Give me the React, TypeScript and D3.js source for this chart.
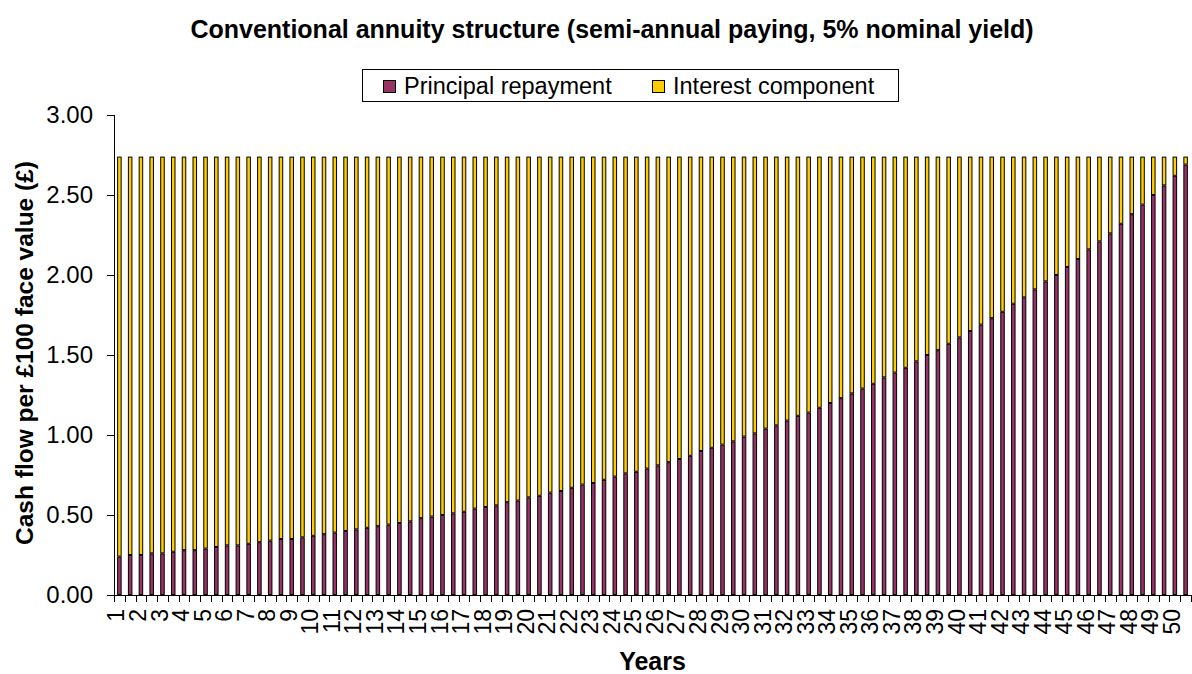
import React, { useRef, useEffect } from 'react';
import * as d3 from 'd3';

// semi-annual payments, 100 periods over 50 years
const principal = [
  0.24, 0.25, 0.25, 0.26, 0.26, 0.27, 0.28, 0.28, 0.29, 0.30,
  0.31, 0.31, 0.32, 0.33, 0.34, 0.35, 0.35, 0.36, 0.37, 0.38,
  0.39, 0.40, 0.41, 0.42, 0.43, 0.44, 0.45, 0.46, 0.48, 0.49,
  0.50, 0.51, 0.52, 0.54, 0.55, 0.56, 0.58, 0.59, 0.61, 0.62,
  0.64, 0.65, 0.67, 0.69, 0.70, 0.72, 0.74, 0.76, 0.77, 0.79,
  0.81, 0.83, 0.85, 0.87, 0.90, 0.92, 0.94, 0.96, 0.99, 1.01,
  1.04, 1.06, 1.09, 1.12, 1.14, 1.17, 1.20, 1.23, 1.26, 1.29,
  1.32, 1.36, 1.39, 1.42, 1.46, 1.50, 1.53, 1.57, 1.61, 1.65,
  1.69, 1.73, 1.77, 1.82, 1.86, 1.91, 1.96, 2.00, 2.05, 2.10,
  2.16, 2.21, 2.26, 2.32, 2.38, 2.44, 2.50, 2.56, 2.62, 2.69
];

const interest = [
  2.50, 2.49, 2.49, 2.48, 2.48, 2.47, 2.46, 2.46, 2.45, 2.44,
  2.43, 2.43, 2.42, 2.41, 2.40, 2.39, 2.39, 2.38, 2.37, 2.36,
  2.35, 2.34, 2.33, 2.32, 2.31, 2.30, 2.29, 2.28, 2.26, 2.25,
  2.24, 2.23, 2.22, 2.20, 2.19, 2.18, 2.16, 2.15, 2.13, 2.12,
  2.10, 2.09, 2.07, 2.05, 2.04, 2.02, 2.00, 1.98, 1.97, 1.95,
  1.93, 1.91, 1.89, 1.87, 1.84, 1.82, 1.80, 1.78, 1.75, 1.73,
  1.70, 1.68, 1.65, 1.62, 1.60, 1.57, 1.54, 1.51, 1.48, 1.45,
  1.42, 1.38, 1.35, 1.32, 1.28, 1.24, 1.21, 1.17, 1.13, 1.09,
  1.05, 1.01, 0.97, 0.92, 0.88, 0.83, 0.78, 0.74, 0.69, 0.64,
  0.58, 0.53, 0.48, 0.42, 0.36, 0.30, 0.24, 0.18, 0.12, 0.05
];

// one label per year, shown under every second payment
const yearLabels = [
  1, 2, 3, 4, 5, 6, 7, 8, 9, 10, 11, 12, 13, 14, 15, 16, 17, 18, 19, 20,
  21, 22, 23, 24, 25, 26, 27, 28, 29, 30, 31, 32, 33, 34, 35, 36, 37, 38, 39, 40,
  41, 42, 43, 44, 45, 46, 47, 48, 49, 50
];

const yTicks = [0, 0.5, 1, 1.5, 2, 2.5, 3];

const seriesNames = ['Principal repayment', 'Interest component'];
const seriesColors = ['#993366', '#FFCC00'];

const FONT = 'Liberation Sans, Arial, Helvetica, sans-serif';

const App = () => {
  const ref = useRef(null);

  useEffect(() => {
    if (!ref.current) return;
    const svg = d3.select(ref.current);
    svg.selectAll('*').remove();

    const width = 1192;
    const height = 674;
    const margin = { top: 115, right: 1, bottom: 79, left: 114 };
    const innerW = width - margin.left - margin.right;
    const innerH = height - margin.top - margin.bottom;

    svg.attr('width', width).attr('height', height);

    const rows = principal.map((p, i) => ({ period: i, principal: p, interest: interest[i] }));
    const stacked = d3.stack().keys(['principal', 'interest'])(rows);

    const x = d3
      .scaleBand()
      .domain(rows.map((d) => d.period))
      .range([0, innerW])
      .paddingInner(0.58)
      .paddingOuter(0.29);

    const y = d3.scaleLinear().domain([0, 3]).range([innerH, 0]);

    const g = svg.append('g').attr('transform', `translate(${margin.left},${margin.top})`);

    // bars
    stacked.forEach((layer, li) => {
      g.append('g')
        .selectAll('rect')
        .data(layer)
        .enter()
        .append('rect')
        .attr('x', (d, i) => x(i) + 0.5)
        .attr('y', (d) => y(d[1]) + 0.5)
        .attr('width', x.bandwidth() - 1)
        .attr('height', (d) => Math.max(0, y(d[0]) - y(d[1]) - 1))
        .attr('fill', seriesColors[li])
        .attr('stroke', '#000')
        .attr('stroke-width', 1);
    });

    // y axis
    const yAxis = d3
      .axisLeft(y)
      .tickValues(yTicks)
      .tickFormat(d3.format('.2f'))
      .tickSize(7)
      .tickPadding(14);
    const yg = g.append('g').call(yAxis);
    yg.select('.domain').attr('stroke', '#000').attr('d', `M0.5,0V${innerH}`);
    yg.selectAll('.tick line').attr('stroke', '#000');
    yg.selectAll('text')
      .attr('font-family', FONT)
      .attr('font-size', 24)
      .attr('fill', '#000');

    // x axis: line and a tick at each category boundary
    const xg = g.append('g').attr('transform', `translate(0,${innerH})`);
    xg.append('line')
      .attr('x1', 0)
      .attr('x2', innerW)
      .attr('y1', 0.5)
      .attr('y2', 0.5)
      .attr('stroke', '#000');
    const step = x.step();
    const boundaries = d3.range(rows.length + 1).map((i) => (i === 0 ? 0 : x(i - 1) + x.bandwidth() / 2 + step / 2));
    xg.selectAll('line.tk')
      .data(boundaries)
      .enter()
      .append('line')
      .attr('class', 'tk')
      .attr('x1', (d) => Math.round(d) + 0.5)
      .attr('x2', (d) => Math.round(d) + 0.5)
      .attr('y1', 0)
      .attr('y2', 7)
      .attr('stroke', '#000');

    xg.selectAll('text.lbl')
      .data(yearLabels)
      .enter()
      .append('text')
      .attr('class', 'lbl')
      .attr('transform', (d, i) => {
        const cx = x(i * 2) + x.bandwidth() / 2 - 3;
        return `translate(${cx},14) rotate(-90)`;
      })
      .attr('text-anchor', 'end')
      .attr('dy', '0.35em')
      .attr('font-family', FONT)
      .attr('font-size', 23)
      .attr('fill', '#000')
      .text((d) => d);

    // titles
    svg.append('text')
      .attr('x', 612)
      .attr('y', 38)
      .attr('text-anchor', 'middle')
      .attr('font-family', FONT)
      .attr('font-weight', 'bold')
      .attr('font-size', 25)
      .text('Conventional annuity structure (semi-annual paying, 5% nominal yield)');

    svg.append('text')
      .attr('x', margin.left + innerW / 2)
      .attr('y', 670)
      .attr('text-anchor', 'middle')
      .attr('font-family', FONT)
      .attr('font-weight', 'bold')
      .attr('font-size', 25)
      .text('Years');

    svg.append('text')
      .attr('transform', `translate(33,${margin.top + innerH / 2 - 2}) rotate(-90)`)
      .attr('text-anchor', 'middle')
      .attr('font-family', FONT)
      .attr('font-weight', 'bold')
      .attr('font-size', 24.5)
      .text('Cash flow per £100 face value (£)');

    // legend
    const lg = svg.append('g');
    lg.append('rect')
      .attr('x', 362.5)
      .attr('y', 69.5)
      .attr('width', 536)
      .attr('height', 32)
      .attr('fill', '#fff')
      .attr('stroke', '#000');
    const legendX = [383, 652];
    seriesNames.forEach((name, i) => {
      lg.append('rect')
        .attr('x', legendX[i] + 0.5)
        .attr('y', 80.5)
        .attr('width', 12)
        .attr('height', 12)
        .attr('fill', seriesColors[i])
        .attr('stroke', '#000');
      lg.append('text')
        .attr('x', legendX[i] + 21)
        .attr('y', 94)
        .attr('font-family', FONT)
        .attr('font-size', 23.5)
        .text(name);
    });
  }, []);

  return (
    <svg
      ref={ref}
      width={1192}
      height={674}
      style={{ position: 'absolute', left: 0, top: 0, background: '#fff' }}
    />
  );
};

export default App;
